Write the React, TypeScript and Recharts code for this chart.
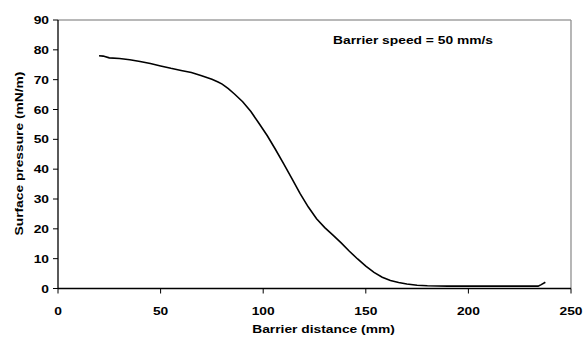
import React from "react";
import { LineChart, Line, XAxis, YAxis, ReferenceLine, Label } from "recharts";

const distance = [20, 22, 25, 30, 35, 40, 45, 50, 55, 60, 65, 70, 75, 78, 80, 83, 86, 90, 94, 98, 102, 106, 110, 114, 118, 122, 126, 130, 134, 138, 142, 146, 150, 154, 158, 162, 166, 170, 175, 180, 190, 200, 210, 220, 230, 234, 235.5, 237.5];
const pressure = [78.0, 77.9, 77.3, 77.1, 76.7, 76.1, 75.4, 74.6, 73.8, 73.1, 72.4, 71.3, 70.1, 69.2, 68.5, 67.0, 65.2, 62.6, 59.3, 55.3, 51.2, 46.6, 41.8, 36.8, 31.8, 27.3, 23.4, 20.4, 17.9, 15.3, 12.5, 9.9, 7.5, 5.4, 3.8, 2.7, 2.0, 1.5, 1.1, 0.9, 0.8, 0.8, 0.8, 0.8, 0.8, 0.8, 1.3, 2.1];
const xTicks = [0, 50, 100, 150, 200, 250];
const yTicks = [0, 10, 20, 30, 40, 50, 60, 70, 80, 90];
const xTitle = "Barrier distance (mm)";
const yTitle = "Surface pressure (mN/m)";
const note = "Barrier speed = 50 mm/s";

const data = distance.map((d, i) => ({ d, p: pressure[i] }));

const FONT = "'Liberation Sans', Arial, sans-serif";
const SX = 1.2;

const XTick = (props: any) => {
  const { x, y, payload } = props;
  return (
    <g transform={`translate(${x},${y})`}>
      <text transform={`scale(${SX},1)`} textAnchor="middle" dy={21.5} fontFamily={FONT} fontWeight="bold" fontSize={11.5} fill="#000">
        {payload.value}
      </text>
    </g>
  );
};

const YTick = (props: any) => {
  const { y, payload } = props;
  return (
    <g transform={`translate(49,${y})`}>
      <text transform={`scale(${SX},1)`} textAnchor="end" dy={4} fontFamily={FONT} fontWeight="bold" fontSize={11.5} fill="#000">
        {payload.value}
      </text>
    </g>
  );
};

const XTitle = (props: any) => {
  const vb = props.viewBox;
  const cx = vb.x + vb.width / 2 + 9;
  return (
    <g transform={`translate(${cx},333)`}>
      <text transform={`scale(${SX},1)`} textAnchor="middle" fontFamily={FONT} fontWeight="bold" fontSize={11.5} fill="#000">
        {xTitle}
      </text>
    </g>
  );
};

const YTitle = () => (
  <g transform={`translate(23,153.5) rotate(-90)`}>
    <text transform={`scale(${SX},1)`} textAnchor="middle" fontFamily={FONT} fontWeight="bold" fontSize={11.5} fill="#000">
      {yTitle}
    </text>
  </g>
);

export default function App() {
  return (
    <div style={{ position: "absolute", left: 0, top: 0, width: 583, height: 337, background: "#fff" }}>
      <LineChart width={583} height={337} data={data} margin={{ top: 20, right: 12, bottom: 0, left: 0 }}>
        <XAxis
          dataKey="d"
          type="number"
          domain={[0, 250]}
          ticks={xTicks}
          height={48.5}
          stroke="#000"
          axisLine={{ stroke: "#000", strokeWidth: 1.3 }}
          tickLine={{ stroke: "#000" }}
          tickSize={5}
          tickMargin={0}
          tick={<XTick />}
          interval={0}
        >
          <Label content={<XTitle />} />
        </XAxis>
        <YAxis
          type="number"
          domain={[0, 90]}
          ticks={yTicks}
          width={58}
          stroke="#000"
          axisLine={{ stroke: "#000", strokeWidth: 1.3 }}
          tickLine={{ stroke: "#000" }}
          tickSize={5}
          tick={<YTick />}
          interval={0}
        >
          <Label content={<YTitle />} />
        </YAxis>
        <ReferenceLine y={90} stroke="#a0a0a0" strokeWidth={1.3} />
        <ReferenceLine x={250} stroke="#909090" strokeWidth={1.3} />
        <Line dataKey="p" type="linear" stroke="#000" strokeWidth={1.6} dot={false} isAnimationActive={false} />
      </LineChart>
      <div
        style={{
          position: "absolute",
          left: 413,
          top: 34,
          transform: "translateX(-50%) scaleX(1.2)",
          whiteSpace: "nowrap",
          fontFamily: FONT,
          fontWeight: "bold",
          fontSize: 11.5,
          lineHeight: "13px",
          color: "#000",
        }}
      >
        {note}
      </div>
    </div>
  );
}
